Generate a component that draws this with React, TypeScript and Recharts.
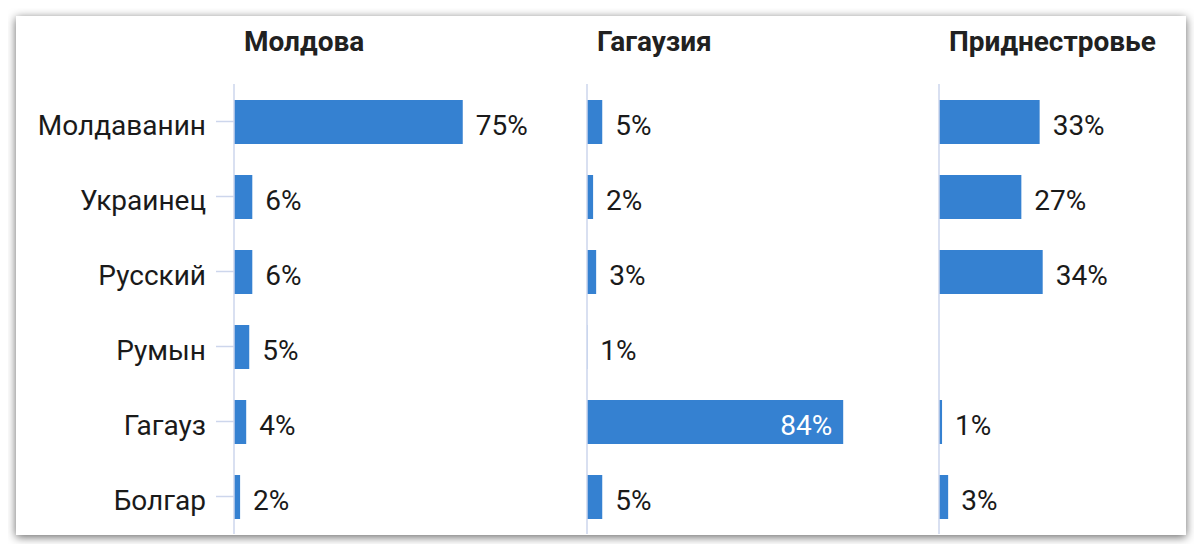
import { BarChart, Bar, XAxis, YAxis, LabelList } from 'recharts';

const categories = ['Молдаванин', 'Украинец', 'Русский', 'Румын', 'Гагауз', 'Болгар'];
const panelTitles = ['Молдова', 'Гагаузия', 'Приднестровье'];
const moldovaValues = [75, 6, 6, 5, 4, 2];
const gagauziaValues = [5, 2, 3, 0.1, 84, 5];
const pridnestroviyeValues = [33, 27, 34, null, 1, 3];

const panelValues = [moldovaValues, gagauziaValues, pridnestroviyeValues];

const BAR_COLOR = '#3581d1';
const AXIS_COLOR = '#cdd6ec';
const TEXT_COLOR = '#1a1a1a';
const FONT = 'Roboto, sans-serif';
const PLOT_W = 305;
const LABEL_SIZE = 28;
const TEXT_SHIFT = 3;

const fmt = (v: number) => `${Math.max(1, Math.round(v))}%`;

function ValueLabel(props: any) {
  const { x, y, width, height, value } = props;
  if (value == null) return null;
  const text = fmt(value);
  const textW = text.length * LABEL_SIZE * 0.62;
  const inside = width + 13 + textW > PLOT_W;
  return (
    <text
      x={inside ? x + width - 11 : x + width + 13}
      y={y + height / 2 + TEXT_SHIFT}
      dy="0.36em"
      textAnchor={inside ? 'end' : 'start'}
      fill={inside ? '#ffffff' : TEXT_COLOR}
      fontSize={LABEL_SIZE}
      fontFamily={FONT}
    >
      {text}
    </text>
  );
}

function CategoryTick(props: any) {
  const { x, y, payload } = props;
  return (
    <text
      x={x}
      y={y + TEXT_SHIFT}
      dy="0.36em"
      textAnchor="end"
      fill={TEXT_COLOR}
      fontSize={LABEL_SIZE}
      fontFamily={FONT}
    >
      {payload.value}
    </text>
  );
}

// axis line x positions inside the card
const axisX = [218, 571, 923];

function Panel({ index }: { index: number }) {
  const data = categories.map((name, i) => ({ name, value: panelValues[index][i] }));
  const first = index === 0;
  const axisW = first ? 218 : 10;
  const left = axisX[index] - axisW;
  return (
    <div style={{ position: 'absolute', left, top: 0 }}>
      <div
        style={{
          position: 'absolute',
          left: axisW + 10,
          top: 9,
          fontFamily: FONT,
          fontWeight: 700,
          fontSize: 28,
          color: '#212121',
          whiteSpace: 'nowrap',
        }}
      >
        {panelTitles[index]}
      </div>
      <BarChart
        width={axisW + PLOT_W}
        height={519}
        data={data}
        layout="vertical"
        margin={{ top: 68, right: 0, bottom: 1, left: 0 }}
      >
        <XAxis type="number" domain={[0, 100]} hide />
        <YAxis
          type="category"
          dataKey="name"
          width={axisW}
          axisLine={{ stroke: AXIS_COLOR, strokeWidth: 1.5 }}
          tickLine={first ? { stroke: AXIS_COLOR, strokeWidth: 1.5 } : false}
          tick={first ? <CategoryTick /> : false}
          tickSize={18}
          tickMargin={10}
          interval={0}
        />
        <Bar dataKey="value" fill={BAR_COLOR} barSize={44} isAnimationActive={false}>
          <LabelList dataKey="value" content={<ValueLabel />} />
        </Bar>
      </BarChart>
    </div>
  );
}

export default function App() {
  return (
    <div style={{ position: 'relative', width: 1202, height: 552, background: '#ffffff', margin: -8 }}>
      <div
        style={{
          position: 'absolute',
          left: 16,
          top: 16,
          width: 1170,
          height: 519,
          background: '#ffffff',
          boxShadow: '0 2px 9px rgba(0,0,0,0.6)',
          overflow: 'hidden',
        }}
      >
        {[0, 1, 2].map((i) => (
          <Panel key={i} index={i} />
        ))}
      </div>
    </div>
  );
}
